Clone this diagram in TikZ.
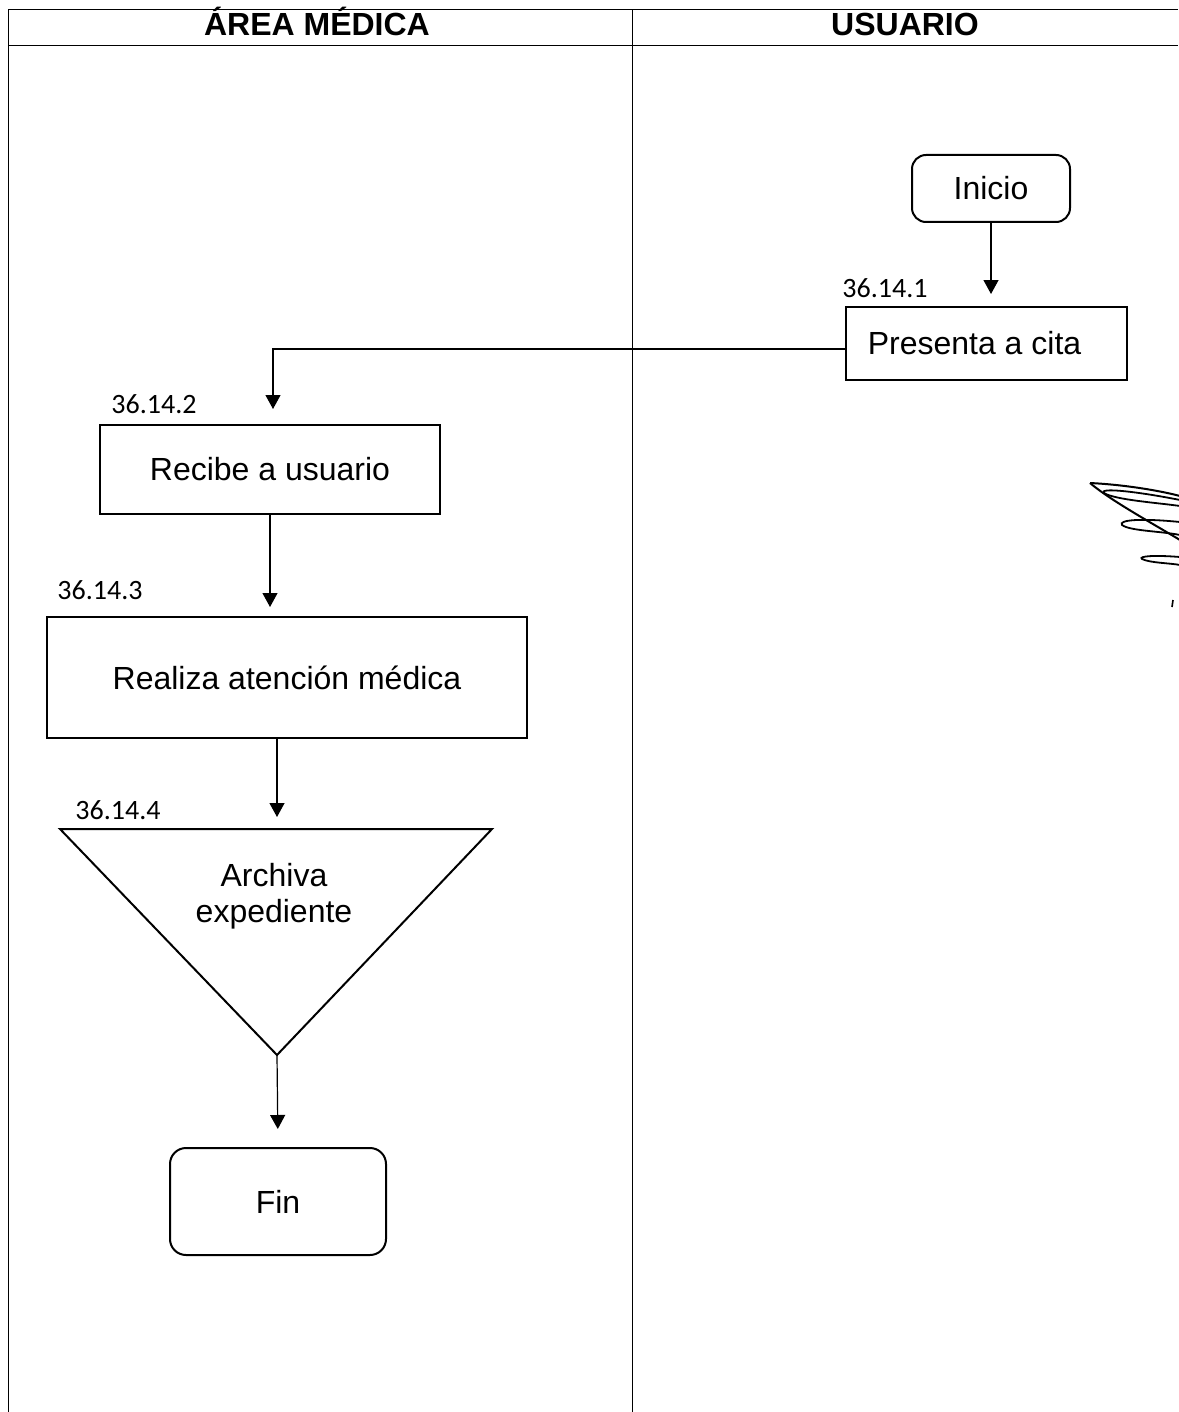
\documentclass[tikz,border=0pt]{standalone}
\usepackage{fontspec}
\setmainfont{Liberation Sans}
\newfontfamily\numfont{Carlito}
\usetikzlibrary{arrows.meta}

\begin{document}
\begin{tikzpicture}[x=0.5pt,y=-0.5pt,
    lane/.style={line width=0.5pt},
    titulo/.style={font=\bfseries\fontsize{16}{18}\selectfont,inner sep=0pt,anchor=base},
    paso/.style={draw,line width=1pt,font=\fontsize{16}{19}\selectfont,inner sep=0pt},
    terminal/.style={paso,rounded corners=7pt},
    clave/.style={font=\numfont\fontsize{14}{16}\selectfont,inner sep=0pt},
    flecha/.style={-{Triangle[length=7pt,width=7.5pt]},line width=0.6pt}]
    \useasboundingbox (0,0) rectangle (1178,1412);

    % carriles
    \draw[lane] (8,10) -- (1178,10);
    \draw[lane] (8,46) -- (1178,46);
    \draw[lane] (8,10) -- (8,1412);
    \draw[lane] (632,10) -- (632,1412);
    \node[titulo] (hmedica) at (317,36) {ÁREA MÉDICA};
    \node[titulo] (husuario) at (905,36) {USUARIO};

    % usuario
    \node[terminal,minimum width=79pt,minimum height=33.5pt] (inicio) at (991,188.5) {Inicio};
    \node[paso,minimum width=140.5pt,minimum height=36.5pt] (presenta) at (986.5,343.5) {Presenta a cita\rule{12pt}{0pt}};
    \node[clave] (k1) at (885,288) {36.14.1};

    % area medica
    \node[paso,minimum width=170pt,minimum height=44.5pt] (recibe) at (270,469.5) {Recibe a usuario};
    \node[clave] (k2) at (154,404) {36.14.2};
    \node[paso,minimum width=240pt,minimum height=60.5pt] (realiza) at (287,677.5) {Realiza atención médica};
    \node[clave] (k3) at (100,590) {36.14.3};
    \coordinate (tl) at (60,829);
    \coordinate (tr) at (492,829);
    \coordinate (tritop) at (277,829);
    \coordinate (tritip) at (277,1055);
    \draw[line width=1pt] (tl) -- (tr) -- (tritip) -- cycle;
    \node[align=center,font=\fontsize{16}{18}\selectfont,inner sep=0pt] (archiva) at (274,896) {Archiva\\expediente};
    \node[clave] (k4) at (118,810) {36.14.4};
    \node[terminal,minimum width=108pt,minimum height=53.5pt,rounded corners=8pt] (fin) at (278,1201.5) {Fin};

    % conectores
    \draw[flecha,shorten >=6pt] (inicio.south) -- (inicio.south |- presenta.north);
    \draw[flecha,shorten >=7.5pt] ([yshift=-2.75pt]presenta.west) -| ([xshift=1.5pt]recibe.north);
    \draw[flecha,shorten >=4.5pt] (recibe.south) -- (recibe.south |- realiza.north);
    \draw[flecha,shorten >=6pt] (realiza.south -| tritop) -- (tritop);
    \draw[flecha,shorten >=9pt] (tritip) -- (fin.north);

    % firma
    \draw[line width=1pt] (1090,483) .. controls (1130,485) and (1165,492) .. (1180,496);
    \draw[line width=1pt] (1090,483) .. controls (1110,500) and (1150,522) .. (1180,540);
    \draw[line width=0.9pt] (1180,500) .. controls (1140,492) and (1098,487) .. (1104,493) .. controls (1115,500) and (1160,503) .. (1180,506);
    \draw[line width=0.9pt] (1180,522) .. controls (1140,518) and (1118,520) .. (1122,525) .. controls (1130,531) and (1160,531) .. (1180,535);
    \draw[line width=0.9pt] (1180,557) .. controls (1155,555) and (1138,556) .. (1142,559) .. controls (1150,563) and (1170,563) .. (1180,565);
    \draw[line width=0.8pt] (1173,600) -- (1172,607);
\end{tikzpicture}
\end{document}
